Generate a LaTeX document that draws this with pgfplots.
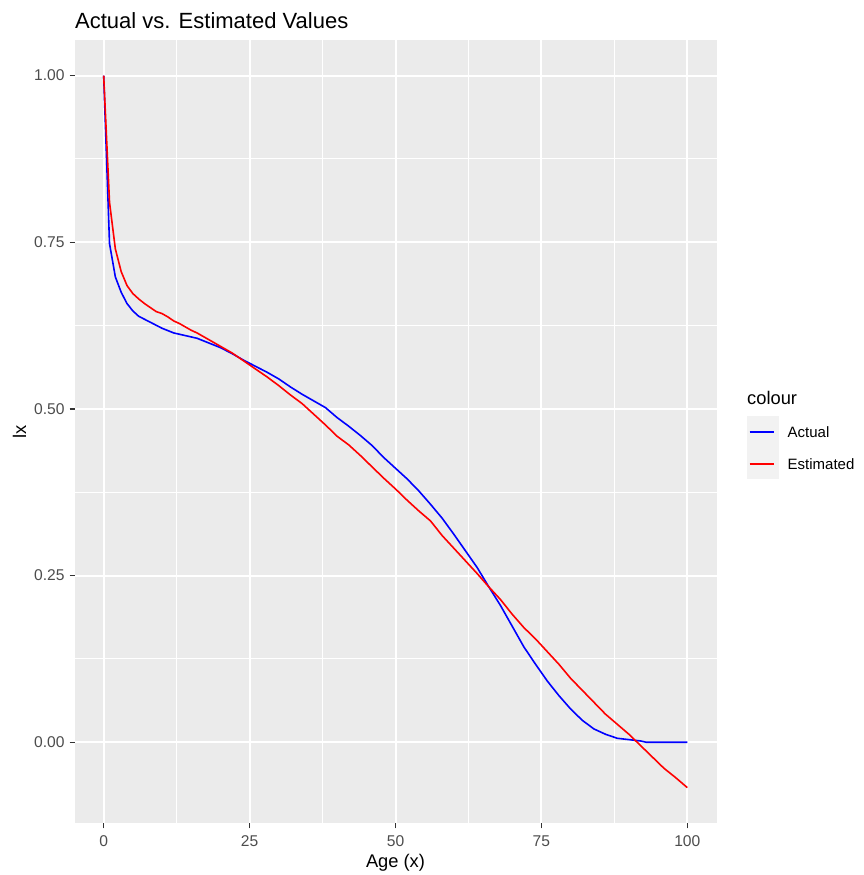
\documentclass[border=0pt]{standalone}
\usepackage{pgfplots}
\pgfplotsset{compat=1.18}
\usepackage{fontspec}
\setmainfont{Liberation Sans}
\definecolor{panelbg}{HTML}{EBEBEB}
\definecolor{grayA}{HTML}{4D4D4D}
\definecolor{grayB}{HTML}{333333}
\definecolor{keybg}{HTML}{F2F2F2}
\begin{document}
\begin{tikzpicture}
\useasboundingbox (0,0) rectangle (863pt,875pt);
\begin{axis}[
  scale only axis,
  width=642pt, height=783.5pt,
  at={(74.5pt,51.5pt)}, anchor=south west,
  xmin=-5, xmax=105, ymin=-0.1218, ymax=1.0534,
  axis background/.style={fill=panelbg},
  axis line style={draw=none},
  grid=both,
  major grid style={white, line width=2pt},
  minor grid style={white, line width=1pt},
  xtick={0,25,50,75,100}, ytick={0,0.25,0.5,0.75,1},
  minor xtick={12.5,37.5,62.5,87.5}, minor ytick={0.125,0.375,0.625,0.875},
  xtick pos=bottom, ytick pos=left,
  tick align=outside, major tick length=5pt, minor tick length=0pt,
  major tick style={grayB, line width=1.4pt},
  /pgf/number format/assume math mode=true,
  ticklabel style={font=\fontsize{15.6}{17}\selectfont, text=grayA},
  yticklabel style={xshift=-1.5pt, /pgf/number format/.cd, fixed, fixed zerofill, precision=2},
  xticklabel style={yshift=-4pt},
  clip=false,
]
\addplot[blue, line width=1.6pt] coordinates {
(0,1.000) (1,0.748) (2,0.698) (3,0.675) (4,0.658) (5,0.647) (6,0.639) (8,0.630)
(10,0.621) (12,0.614) (14,0.610) (16,0.606) (18,0.599) (20,0.592) (22,0.583)
(24,0.573) (26,0.564) (28,0.555) (30,0.545) (32,0.533) (34,0.522) (36,0.512)
(38,0.502) (40,0.487) (42,0.474) (44,0.460) (46,0.445) (48,0.427) (50,0.411)
(52,0.395) (54,0.377) (56,0.357) (58,0.336) (60,0.312) (62,0.287) (64,0.262)
(66,0.233) (68,0.205) (70,0.174) (72,0.143) (74,0.117) (76,0.092) (78,0.070)
(80,0.050) (82,0.033) (84,0.020) (86,0.012) (88,0.006) (90,0.004) (92,0.002)
(93,0.000) (100,0.000)
};
\addplot[red, line width=1.6pt] coordinates {
(0,1.000) (1,0.810) (2,0.740) (3,0.706) (4,0.685) (5,0.673) (6,0.665) (7,0.658)
(8,0.652) (9,0.646) (10,0.643) (11,0.638) (12,0.632) (13,0.628) (14,0.623)
(15,0.618) (16,0.614) (17,0.609) (18,0.604) (20,0.594) (22,0.584) (24,0.572)
(26,0.560) (28,0.548) (30,0.535) (32,0.521) (34,0.508) (36,0.492) (38,0.476)
(40,0.459) (42,0.446) (44,0.430) (46,0.413) (48,0.396) (50,0.380) (52,0.363)
(54,0.347) (56,0.332) (58,0.310) (60,0.291) (62,0.272) (64,0.253) (66,0.233)
(68,0.214) (70,0.192) (72,0.172) (74,0.155) (76,0.136) (78,0.117) (80,0.096)
(82,0.078) (84,0.060) (86,0.042) (88,0.027) (90,0.012) (92,-0.005) (94,-0.022)
(96,-0.039) (98,-0.053) (100,-0.068)
};
\end{axis}
% title and axis labels
\node[anchor=base west, inner sep=0pt, font=\fontsize{22}{26}\selectfont] at (75pt,846pt) {Actual vs. Estimated Values};
\node[anchor=base, inner sep=0pt, font=\fontsize{18.3}{22}\selectfont] at (395.5pt,8pt) {Age (x)};
\node[anchor=base, rotate=90, inner sep=0pt, font=\fontsize{18.3}{22}\selectfont] at (26pt,443pt) {lx};
% legend
\node[anchor=base west, inner sep=0pt, font=\fontsize{18.3}{22}\selectfont] at (747pt,470pt) {colour};
\fill[keybg] (747pt,396pt) rectangle (779pt,459pt);
\draw[blue, line width=1.6pt] (749.5pt,443pt) -- (773.5pt,443pt);
\draw[red, line width=1.6pt] (749.5pt,411pt) -- (773.5pt,411pt);
\node[anchor=west, inner sep=0pt, font=\fontsize{15}{17}\selectfont] at (787.5pt,443pt) {Actual};
\node[anchor=west, inner sep=0pt, font=\fontsize{15}{17}\selectfont] at (787.5pt,411pt) {Estimated};
\end{tikzpicture}
\end{document}
